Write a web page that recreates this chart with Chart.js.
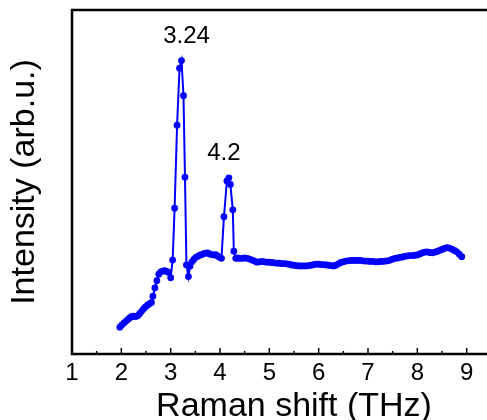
<!DOCTYPE html>
<html>
<head>
<meta charset="utf-8">
<script src="https://cdn.jsdelivr.net/npm/chart.js@4"></script>
<style>
    html, body { margin: 0; padding: 0; overflow: hidden; background: #fff; }
    #wrap { width: 540px; height: 420px; }
</style>
</head>
<body>
<div id="wrap"><canvas id="ramanChart" width="540" height="420"></canvas></div>
<script>
// Raman spectrum, values (intensity in arbitrary units, 0-100)
const shift = [
    1.97, 2.01, 2.05, 2.09, 2.13, 2.17, 2.21, 2.25, 2.29, 2.33, 2.37, 2.41, 2.45, 2.49, 2.53,
    2.57, 2.61, 2.64, 2.68, 2.72, 2.76, 2.80, 2.84, 2.88, 2.92, 2.96, 3.00, 3.04, 3.08, 3.13,
    3.18, 3.22, 3.26, 3.29, 3.32, 3.36, 3.39, 3.43, 3.47, 3.51, 3.55, 3.59, 3.63, 3.67, 3.71,
    3.75, 3.79, 3.83, 3.87, 3.91, 3.95, 3.99, 4.03, 4.08, 4.14, 4.18, 4.21, 4.26, 4.28, 4.32,
    4.36, 4.40, 4.45, 4.50, 4.55, 4.60, 4.65, 4.70, 4.75, 4.80, 4.85, 4.90, 4.95, 5.00, 5.05,
    5.10, 5.15, 5.20, 5.25, 5.30, 5.35, 5.40, 5.45, 5.50, 5.55, 5.60, 5.65, 5.70, 5.75, 5.80,
    5.85, 5.90, 5.95, 6.00, 6.05, 6.10, 6.15, 6.20, 6.25, 6.30, 6.35, 6.40, 6.45, 6.50, 6.55,
    6.60, 6.65, 6.70, 6.75, 6.80, 6.85, 6.90, 6.95, 7.00, 7.05, 7.10, 7.15, 7.20, 7.25, 7.30,
    7.35, 7.40, 7.45, 7.50, 7.55, 7.60, 7.65, 7.70, 7.75, 7.80, 7.85, 7.90, 7.95, 8.00, 8.05,
    8.10, 8.15, 8.20, 8.25, 8.30, 8.35, 8.40, 8.45, 8.50, 8.55, 8.60, 8.65, 8.70, 8.75, 8.80,
    8.85, 8.90
];
const intensity = [
    7.8, 8.4, 9.0, 9.5, 10.0, 10.5, 10.9, 11.0, 10.9, 11.1, 11.7, 12.4, 13.1, 13.7, 14.2,
    14.6, 15.0, 16.8, 19.2, 21.3, 23.2, 23.9, 24.1, 24.2, 24.0, 23.7, 22.2, 27.3, 42.4, 66.5,
    83.1, 85.3, 75.1, 51.4, 25.9, 22.5, 25.5, 26.8, 27.5, 28.1, 28.4, 28.7, 28.9, 29.2, 29.3,
    29.4, 29.1, 28.9, 28.8, 28.9, 28.5, 28.1, 27.8, 39.9, 50.3, 51.2, 49.3, 41.9, 29.9, 27.8,
    27.9, 27.8, 27.8, 27.9, 27.8, 27.6, 27.3, 27.0, 26.7, 26.8, 26.9, 26.8, 26.7, 26.7, 26.6,
    26.5, 26.4, 26.4, 26.3, 26.3, 26.2, 26.1, 25.9, 25.8, 25.7, 25.6, 25.6, 25.6, 25.6, 25.7,
    25.8, 26.0, 26.1, 26.1, 26.0, 26.0, 25.9, 25.8, 25.7, 25.6, 25.8, 26.2, 26.6, 26.8, 27.0,
    27.1, 27.2, 27.2, 27.2, 27.2, 27.2, 27.1, 27.0, 27.0, 26.9, 26.9, 26.8, 26.8, 26.9, 26.9,
    27.0, 27.1, 27.3, 27.6, 27.8, 27.9, 28.1, 28.2, 28.4, 28.5, 28.6, 28.6, 28.7, 28.8, 29.1,
    29.4, 29.6, 29.7, 29.5, 29.4, 29.6, 29.8, 30.1, 30.4, 30.7, 30.9, 30.8, 30.5, 30.1, 29.7,
    29.0, 28.3
];
const xTicks = [1, 2, 3, 4, 5, 6, 7, 8, 9, 10];
const peakLabels = ['3.24', '4.2'];
const peakIndex = [31, 55];   // data points the labels sit above

const FONT = "'Liberation Sans', Arial, sans-serif";
const BLUE = '#0000ff';

// frame, inward ticks and the peak labels
const framePlugin = {
    id: 'framePlugin',
    afterDatasetsDraw(chart) {
        const { ctx, chartArea: { left, right, top, bottom }, scales: { x, y } } = chart;
        ctx.save();
        ctx.strokeStyle = '#000';
        ctx.lineWidth = 2.5;
        ctx.strokeRect(left, top, right - left, bottom - top);

        ctx.lineWidth = 1.5;
        for (let v = x.min; v <= x.max; v += 0.5) {
            const px = x.getPixelForValue(v);
            const len = Number.isInteger(v) ? 6 : 3;
            ctx.beginPath();
            ctx.moveTo(px, bottom);
            ctx.lineTo(px, bottom - len);
            ctx.stroke();
        }

        ctx.fillStyle = '#000';
        ctx.font = '24px ' + FONT;
        ctx.textAlign = 'center';
        ctx.textBaseline = 'middle';
        const dx = [5, -5];
        peakLabels.forEach((txt, i) => {
            const k = peakIndex[i];
            ctx.fillText(txt, x.getPixelForValue(shift[k]) + dx[i], y.getPixelForValue(intensity[k]) - 24);
        });
        ctx.restore();
    }
};

const ctx = document.getElementById('ramanChart').getContext('2d');
new Chart(ctx, {
    type: 'line',
    data: {
        datasets: [{
            data: shift.map((s, i) => ({ x: s, y: intensity[i] })),
            borderColor: BLUE,
            backgroundColor: BLUE,
            borderWidth: 2,
            pointRadius: 3.4,
            pointBorderWidth: 0,
            pointBackgroundColor: BLUE,
            tension: 0,
            fill: false
        }]
    },
    options: {
        responsive: false,
        animation: false,
        events: [],
        layout: { padding: { left: 0, right: 24, top: 10, bottom: 0 } },
        plugins: {
            legend: { display: false },
            tooltip: { enabled: false }
        },
        scales: {
            x: {
                type: 'linear',
                min: 1,
                max: 10,
                afterBuildTicks: (scale) => { scale.ticks = xTicks.map(v => ({ value: v })); },
                afterFit: (scale) => { scale.height = 66; },
                grid: { display: false, drawTicks: false },
                border: { display: false },
                ticks: {
                    autoSkip: false,
                    maxRotation: 0,
                    padding: 5,
                    color: '#000',
                    font: { family: FONT, size: 24 }
                },
                title: {
                    display: true,
                    text: 'Raman shift (THz)',
                    color: '#000',
                    font: { family: FONT, size: 34, lineHeight: 1 },
                    padding: { top: 0, bottom: -4 }
                }
            },
            y: {
                min: 0,
                max: 100,
                afterFit: (scale) => { scale.width = 72; },
                grid: { display: false, drawTicks: false },
                border: { display: false },
                ticks: { display: false },
                title: {
                    display: true,
                    text: 'Intensity (arb.u.)',
                    color: '#000',
                    font: { family: FONT, size: 34 },
                    padding: { top: 4, bottom: 0 }
                }
            }
        }
    },
    plugins: [framePlugin]
});
</script>
</body>
</html>
